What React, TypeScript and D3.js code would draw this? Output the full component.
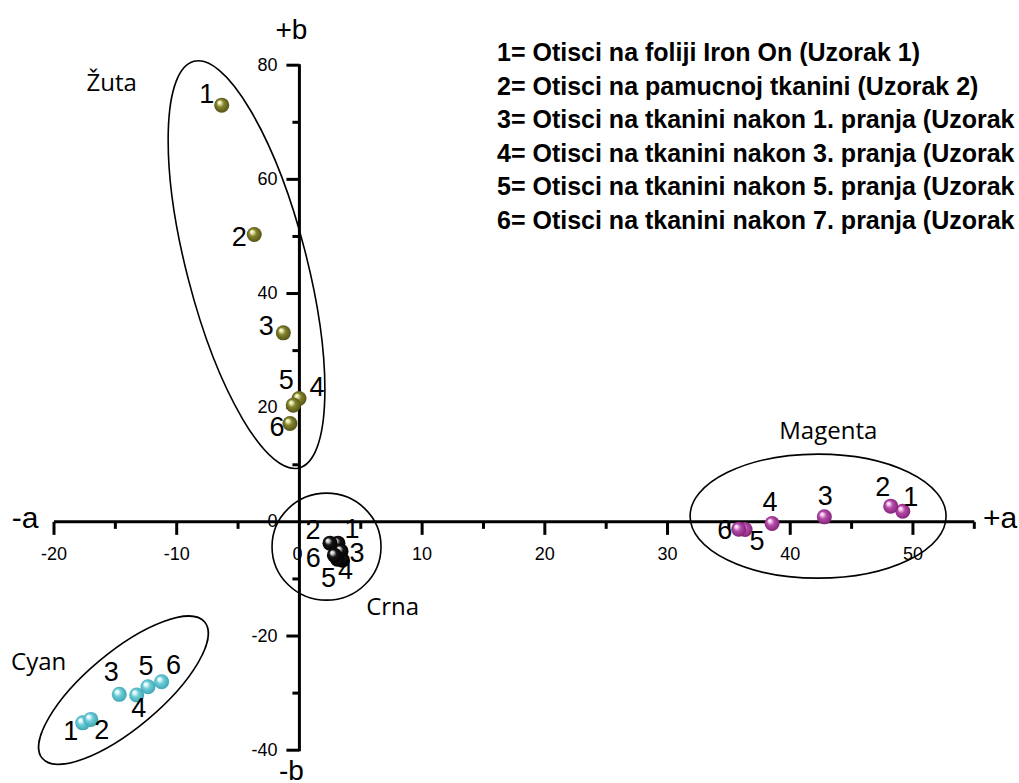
import React from 'react';
import * as d3 from 'd3';

// CIELab a*/b* coordinates of the prints, samples 1..6 per ink
const sampleIds = [1, 2, 3, 4, 5, 6];
const zutaA = [-6.33, -3.68, -1.31, -0.03, -0.5, -0.77];
const zutaB = [73.0, 50.35, 33.11, 21.62, 20.45, 17.24];
const magentaA = [49.17, 48.19, 42.78, 38.52, 36.32, 35.8];
const magentaB = [1.87, 2.75, 0.88, -0.28, -1.33, -1.28];
const crnaA = [3.14, 2.49, 3.39, 3.51, 3.1, 2.85];
const crnaB = [-3.73, -3.73, -5.13, -6.71, -6.53, -5.83];
const cyanA = [-17.66, -17.0, -14.68, -13.26, -12.34, -11.23];
const cyanB = [-35.21, -34.6, -30.22, -30.34, -28.89, -28.01];

// axis ticks
const xMajorTicks = [-20, -10, 0, 10, 20, 30, 40, 50];
const xMinorTicks = [-15, -5, 5, 15, 25, 35, 45, 55];
const yMajorTicks = [80, 60, 40, 20, 0, -20, -40];
const yMinorTicks = [70, 50, 30, 10, -10, -30];

const legendLines = [
  '1= Otisci na foliji Iron On (Uzorak 1)',
  '2= Otisci na pamucnoj tkanini (Uzorak 2)',
  '3= Otisci na tkanini nakon 1. pranja (Uzorak',
  '4= Otisci na tkanini nakon 3. pranja (Uzorak',
  '5= Otisci na tkanini nakon 5. pranja (Uzorak',
  '6= Otisci na tkanini nakon 7. pranja (Uzorak',
];

// number label offsets (px) from each sphere
const zutaLabelOffsets = [[-15, -12], [-15, 2], [-17, -8], [18, -12], [-7, -26], [-13, 3]];
const magentaLabelOffsets = [[8, -15], [-8, -20], [1, -22], [-2, -22], [12, 11], [-14, 0]];
const crnaLabelOffsets = [[14, -15], [-17, -14], [16, 1], [3, 9], [-9, 18], [-21, 2]];
const cyanLabelOffsets = [[-12, 7], [11, 10], [-8, -23], [2, 12], [-2, -22], [12, -17]];

type Group = {
  key: string;
  name: string;
  a: number[];
  b: number[];
  offsets: number[][];
  base: string;
  light: string;
  dark: string;
  // ring drawn around the group: centre in a/b units, radii in px, rotation in deg
  ring: { a: number; b: number; rx: number; ry: number; rot: number };
  title: { a: number; b: number; anchor: string };
};

const groups: Group[] = [
  {
    key: 'zuta', name: 'Žuta', a: zutaA, b: zutaB, offsets: zutaLabelOffsets,
    base: '#83832c', light: '#e8e8b0', dark: '#4d4d14',
    ring: { a: -4.31, b: 45.06, rx: 210, ry: 60, rot: 75.5 },
    title: { a: -15.3, b: 75.5, anchor: 'middle' },
  },
  {
    key: 'magenta', name: 'Magenta', a: magentaA, b: magentaB, offsets: magentaLabelOffsets,
    base: '#b54aa9', light: '#f3c8ee', dark: '#7d1f72',
    ring: { a: 42.27, b: 1.0, rx: 128, ry: 62, rot: 0 },
    title: { a: 43.1, b: 14.5, anchor: 'middle' },
  },
  {
    key: 'crna', name: 'Crna', a: crnaA, b: crnaB, offsets: crnaLabelOffsets,
    base: '#151515', light: '#d0d0d0', dark: '#000000',
    ring: { a: 2.21, b: -4.34, rx: 54.5, ry: 53.5, rot: 0 },
    title: { a: 7.6, b: -16.3, anchor: 'middle' },
  },
  {
    key: 'cyan', name: 'Cyan', a: cyanA, b: cyanB, offsets: cyanLabelOffsets,
    base: '#6ccdd9', light: '#e4f8fb', dark: '#3a9fae',
    ring: { a: -14.34, b: -29.49, rx: 106, ry: 38, rot: -40 },
    title: { a: -21.25, b: -25.96, anchor: 'middle' },
  },
];

const W = 1019;
const H = 783;

const x = d3.scaleLinear().domain([-20, 55]).range([54, 974.3]);
const y = d3.scaleLinear().domain([-40, 80]).range([750.2, 65.2]);

const SANS = '"Liberation Sans", Arial, sans-serif';
const HUMANIST = '"Open Sans", "Noto Sans", sans-serif';

export default function App() {
  const x0 = x(0);
  const y0 = y(0);
  return (
    <svg width={W} height={H} style={{ position: 'absolute', left: 0, top: 0, background: '#fff' }}>
      <defs>
        {groups.map((g) => (
          <radialGradient key={g.key} id={`ball-${g.key}`} cx="50%" cy="50%" r="55%" fx="32%" fy="30%">
            <stop offset="0%" stopColor="#ffffff" />
            <stop offset="18%" stopColor={g.light} />
            <stop offset="45%" stopColor={g.base} />
            <stop offset="100%" stopColor={g.dark} />
          </radialGradient>
        ))}
      </defs>

      {/* a axis */}
      <line x1={x(-20)} x2={x(55)} y1={y0} y2={y0} stroke="#000" strokeWidth={3} />
      {xMajorTicks.filter((t) => t !== 0).map((t) => (
        <line key={`xM${t}`} x1={x(t)} x2={x(t)} y1={y0} y2={y0 + 13} stroke="#000" strokeWidth={3} />
      ))}
      {xMinorTicks.map((t) => (
        <line key={`xm${t}`} x1={x(t)} x2={x(t)} y1={y0} y2={y0 + 7} stroke="#000" strokeWidth={3} />
      ))}
      {xMajorTicks.map((t) => (
        <text key={`xl${t}`} x={x(t) - (t === 0 ? 2 : 0)} y={y0 + 38} textAnchor="middle"
          fontFamily={SANS} fontSize={18} fill="#000">{t}</text>
      ))}

      {/* b axis */}
      <line x1={x0} x2={x0} y1={y(80) - 1} y2={y(-40) + 1} stroke="#000" strokeWidth={3} />
      {yMajorTicks.filter((t) => t !== 0).map((t) => (
        <line key={`yM${t}`} x1={x0 - 13} x2={x0} y1={y(t)} y2={y(t)} stroke="#000" strokeWidth={3} />
      ))}
      {yMinorTicks.map((t) => (
        <line key={`ym${t}`} x1={x0 - 7} x2={x0} y1={y(t)} y2={y(t)} stroke="#000" strokeWidth={3} />
      ))}
      {yMajorTicks.map((t) => (
        <text key={`yl${t}`} x={x0 - 22} y={y(t) - 1} dy="0.36em" textAnchor="end"
          fontFamily={SANS} fontSize={18} fill="#000">{t}</text>
      ))}

      {/* axis titles */}
      <text x={25} y={y0 + 6} textAnchor="middle" fontFamily={SANS} fontSize={30}>-a</text>
      <text x={1000} y={y0 + 6} textAnchor="middle" fontFamily={SANS} fontSize={30}>+a</text>
      <text x={x0 - 8} y={39} textAnchor="middle" fontFamily={SANS} fontSize={28}>+b</text>
      <text x={x0 - 8} y={780} textAnchor="middle" fontFamily={SANS} fontSize={28}>-b</text>

      {/* group rings */}
      {groups.map((g) => (
        <ellipse key={`ring-${g.key}`} cx={0} cy={0} rx={g.ring.rx} ry={g.ring.ry}
          transform={`translate(${x(g.ring.a)},${y(g.ring.b)}) rotate(${g.ring.rot})`}
          fill="none" stroke="#000" strokeWidth={1.6} />
      ))}

      {/* spheres */}
      {groups.map((g) => (
        <g key={`pts-${g.key}`}>
          {sampleIds.map((id, i) => (
            <circle key={id} cx={x(g.a[i])} cy={y(g.b[i])} r={7.5} fill={`url(#ball-${g.key})`} />
          ))}
        </g>
      ))}

      {/* sample numbers */}
      {groups.map((g) => (
        <g key={`lbl-${g.key}`}>
          {sampleIds.map((id, i) => (
            <text key={id} x={x(g.a[i]) + g.offsets[i][0]} y={y(g.b[i]) + g.offsets[i][1]} dy="0.36em"
              textAnchor="middle" fontFamily={SANS} fontSize={27} fill="#000">{id}</text>
          ))}
        </g>
      ))}

      {/* group names */}
      {groups.map((g) => (
        <text key={`name-${g.key}`} x={x(g.title.a)} y={y(g.title.b)} textAnchor={g.title.anchor}
          fontFamily={HUMANIST} fontSize={24} fill="#000">{g.name}</text>
      ))}

      {/* sample legend */}
      {legendLines.map((line, i) => (
        <text key={i} x={497} y={61 + i * 33.6} fontFamily={SANS} fontWeight="bold" fontSize={25} fill="#000">{line}</text>
      ))}
    </svg>
  );
}
